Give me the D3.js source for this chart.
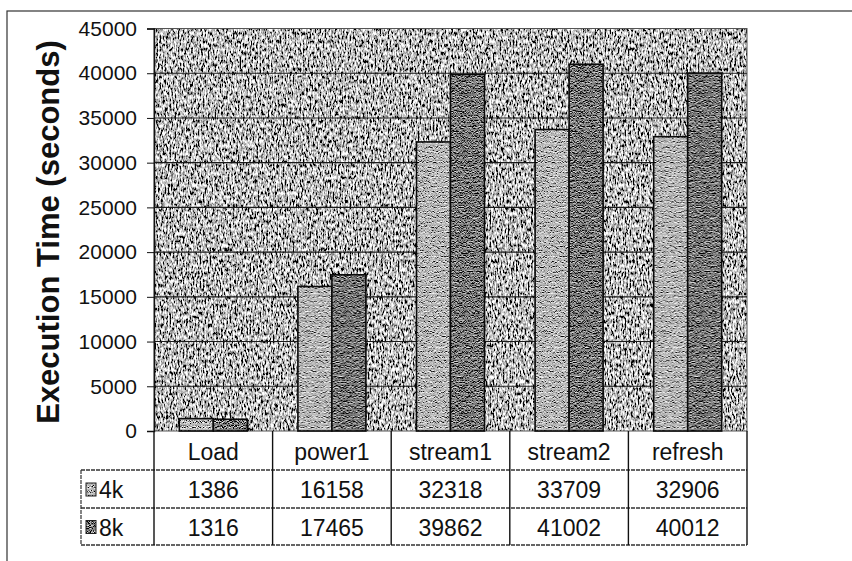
<!DOCTYPE html>
<html>
<head>
<meta charset="utf-8">
<script src="https://cdn.jsdelivr.net/npm/d3@7"></script>
<style>
  body { margin: 0; background: #fff; }
  svg { display: block; font-family: "Liberation Sans", Arial, sans-serif; }
</style>
</head>
<body>
<div id="chart"></div>
<script>
// data
const categories = ["Load", "power1", "stream1", "stream2", "refresh"];
const seriesNames = ["4k", "8k"];
const values4k = [1386, 16158, 32318, 33709, 32906];
const values8k = [1316, 17465, 39862, 41002, 40012];
const yTicks = [0, 5000, 10000, 15000, 20000, 25000, 30000, 35000, 40000, 45000];

const W = 852, H = 561;
const plot = { left: 154, right: 747, top: 28.5, bottom: 431 };
const rowH = [39, 38, 37];   // header row, 4k row, 8k row
const legendLeft = 81;

const svg = d3.select("#chart").append("svg")
  .attr("width", W).attr("height", H);

const defs = svg.append("defs");

// grey scanned-looking textures
function texture(id, freq, oct, seed, k, b) {
  const f = defs.append("filter").attr("id", "f" + id)
    .attr("x", 0).attr("y", 0).attr("width", 1).attr("height", 1);
  f.append("feTurbulence").attr("type", "fractalNoise")
    .attr("baseFrequency", freq).attr("numOctaves", oct).attr("seed", seed);
  f.append("feColorMatrix").attr("type", "matrix")
    .attr("values", `${k} 0 0 0 ${b}  ${k} 0 0 0 ${b}  ${k} 0 0 0 ${b}  0 0 0 0 1`);
  const p = defs.append("pattern").attr("id", id)
    .attr("patternUnits", "userSpaceOnUse").attr("width", W).attr("height", H);
  p.append("rect").attr("width", W).attr("height", H)
    .attr("fill", "#fff").attr("filter", `url(#f${id})`);
}
texture("bgTex", "0.6 0.25", 3, 3, 3.0, -1.0);
texture("tex4k", "1.0 0.8", 2, 7, 2.8, -0.92);
texture("tex8k", "1.0 0.8", 2, 11, 2.6, -1.1);
const fills = { "4k": "url(#tex4k)", "8k": "url(#tex8k)" };

// outer frame
svg.append("rect").attr("x", 7).attr("y", 11)
  .attr("width", W + 20).attr("height", H + 20)
  .attr("fill", "none").attr("stroke", "#333").attr("stroke-width", 1.2);

const x = d3.scaleBand().domain(categories).range([plot.left, plot.right]).padding(0);
const xs = d3.scaleBand().domain(seriesNames).range([0, x.bandwidth()])
  .paddingInner(0).paddingOuter(0.744);
const y = d3.scaleLinear().domain([0, 45000]).range([plot.bottom, plot.top]);

// plot background
svg.append("rect")
  .attr("x", plot.left).attr("y", plot.top)
  .attr("width", plot.right - plot.left).attr("height", plot.bottom - plot.top)
  .attr("fill", "url(#bgTex)").attr("stroke", "#555").attr("stroke-width", 1);

// gridlines + y axis
const yAxis = svg.append("g")
  .attr("transform", `translate(${plot.left},0)`)
  .call(d3.axisLeft(y).tickValues(yTicks).tickSize(7).tickPadding(10).tickFormat(d3.format("d")));
yAxis.select(".domain").attr("stroke", "#111").attr("stroke-width", 1.4);
yAxis.selectAll(".tick line").attr("stroke", "#111");
yAxis.selectAll(".tick text")
  .attr("font-size", 21).attr("fill", "#111")
  .attr("font-family", "'Liberation Sans', Arial, sans-serif");

svg.append("g").selectAll("line")
  .data(yTicks.filter(d => d > 0 && d < 45000))
  .join("line")
  .attr("x1", plot.left).attr("x2", plot.right)
  .attr("y1", d => y(d)).attr("y2", d => y(d))
  .attr("stroke", "#1a1a1a").attr("stroke-width", 1.1);

// bars
const rows = categories.map((c, i) => ({ cat: c, "4k": values4k[i], "8k": values8k[i] }));
svg.append("g").selectAll("g")
  .data(rows)
  .join("g")
  .attr("transform", d => `translate(${x(d.cat)},0)`)
  .selectAll("rect")
  .data(d => seriesNames.map(s => ({ s, v: d[s] })))
  .join("rect")
  .attr("x", d => xs(d.s))
  .attr("y", d => y(d.v))
  .attr("width", xs.bandwidth())
  .attr("height", d => y(0) - y(d.v))
  .attr("fill", d => fills[d.s])
  .attr("stroke", "#0a0a0a").attr("stroke-width", 1.6);

// y axis title
svg.append("text")
  .attr("transform", `translate(59,232) rotate(-90)`)
  .attr("text-anchor", "middle")
  .attr("font-size", 31).attr("font-weight", "bold").attr("fill", "#111")
  .text("Execution Time (seconds)");

// data table
const t0 = plot.bottom;
const t1 = t0 + rowH[0];
const t2 = t1 + rowH[1];
const t3 = t2 + rowH[2];
const table = svg.append("g");

// horizontal rules
table.append("line").attr("x1", legendLeft).attr("x2", plot.right).attr("y1", t1).attr("y2", t1);
table.append("line").attr("x1", legendLeft).attr("x2", plot.right).attr("y1", t2).attr("y2", t2);
table.append("line").attr("x1", legendLeft).attr("x2", plot.right).attr("y1", t3).attr("y2", t3);
table.selectAll("line")
  .attr("stroke", "#333").attr("stroke-width", 1.3).attr("stroke-dasharray", "4 1");

// vertical rules at category boundaries
const bounds = categories.map(c => x(c)).concat([plot.right]);
table.append("g").selectAll("line")
  .data(bounds)
  .join("line")
  .attr("x1", d => d).attr("x2", d => d)
  .attr("y1", t0).attr("y2", t3)
  .attr("stroke", "#111").attr("stroke-width", 1.4);
table.append("line")
  .attr("x1", legendLeft).attr("x2", legendLeft).attr("y1", t1).attr("y2", t3)
  .attr("stroke", "#333").attr("stroke-width", 1.2).attr("stroke-dasharray", "4 1");

// header labels
table.append("g").selectAll("text")
  .data(categories)
  .join("text")
  .attr("x", d => x(d) + x.bandwidth() / 2)
  .attr("y", t0 + rowH[0] / 2 + 1)
  .attr("dominant-baseline", "central")
  .attr("text-anchor", "middle")
  .attr("font-size", 23).attr("fill", "#111")
  .text(d => d);

// value rows + legend keys
const seriesRows = [
  { name: "4k", vals: values4k, top: t1, h: rowH[1] },
  { name: "8k", vals: values8k, top: t2, h: rowH[2] }
];
seriesRows.forEach(r => {
  const g = table.append("g");
  g.selectAll("text")
    .data(r.vals)
    .join("text")
    .attr("x", (d, i) => x(categories[i]) + x.bandwidth() / 2)
    .attr("y", r.top + r.h / 2 + 1)
    .attr("dominant-baseline", "central")
    .attr("text-anchor", "middle")
    .attr("font-size", 23).attr("fill", "#111")
    .text(d => d);
  g.append("rect")
    .attr("x", legendLeft + 5).attr("y", r.top + r.h / 2 - 6)
    .attr("width", 10).attr("height", 13)
    .attr("fill", fills[r.name]).attr("stroke", "#222").attr("stroke-width", 1);
  g.append("text")
    .attr("x", legendLeft + 18).attr("y", r.top + r.h / 2 + 1)
    .attr("dominant-baseline", "central")
    .attr("font-size", 23).attr("fill", "#111")
    .text(r.name);
});
</script>
</body>
</html>
